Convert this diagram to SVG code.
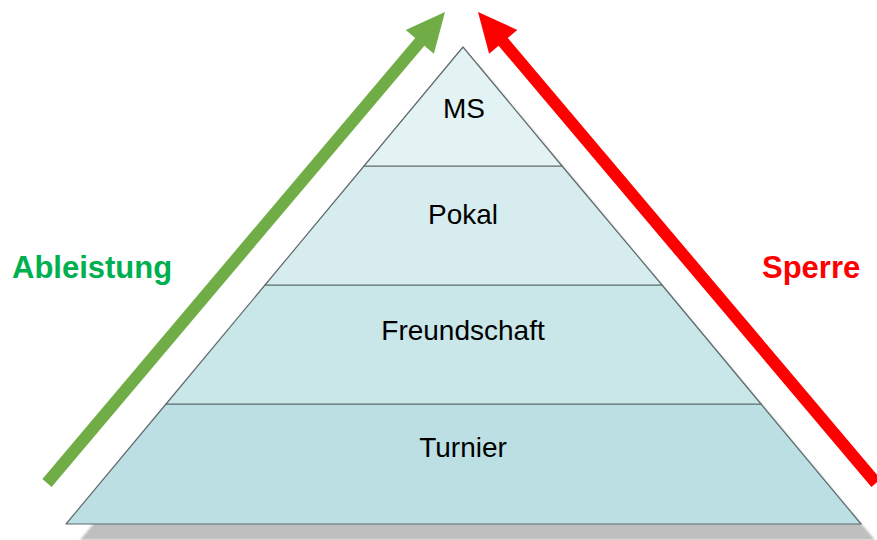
<svg xmlns="http://www.w3.org/2000/svg" width="877" height="540" viewBox="0 0 877 540">
<style>
.layer{stroke:#5f6a6d;stroke-width:1.2;stroke-linejoin:round}
.lbl{font-family:"Liberation Sans",Arial,sans-serif;font-size:28px;fill:#000;text-anchor:middle}
.side{font-family:"Liberation Sans",Arial,sans-serif;font-size:31px;font-weight:bold}
</style>
<defs>
<filter id="blur" x="-5%" y="-5%" width="110%" height="110%"><feGaussianBlur stdDeviation="1"/></filter>
</defs>
<rect width="877" height="540" fill="#ffffff"/>
<g id="shadow">
<polygon points="477,63 875,540 80,540 80,540" fill="#bfbfbf" filter="url(#blur)"/>
</g>
<g id="layer-turnier">
<polygon class="layer" points="166,404 761,404 861,524 66,524" fill="#bbdfe2"/>
<text class="lbl" x="463" y="457">Turnier</text>
</g>
<g id="layer-freundschaft">
<polygon class="layer" points="265,285 662,285 761,404 166,404" fill="#c9e6e9"/>
<text class="lbl" x="463" y="340">Freundschaft</text>
</g>
<g id="layer-pokal">
<polygon class="layer" points="364,166 562,166 662,285 265,285" fill="#d7ecef"/>
<text class="lbl" x="463" y="224">Pokal</text>
</g>
<g id="layer-ms">
<polygon class="layer" points="463,47 562,166 364,166" fill="#e3f2f3"/>
<text class="lbl" x="464" y="118">MS</text>
</g>
<g id="connectors">
<polygon id="arrow-ableistung" points="51.6,486.9 424.4,45.7 433.9,53.7 445,12 405.7,29.9 415.2,37.9 42.4,479.1" fill="#70ad47"/>
<polygon id="arrow-sperre" points="871.4,486.9 498.6,45.7 489.1,53.7 478,12 517.3,29.9 507.8,37.9 880.6,479.1" fill="#ff0000"/>
</g>
<g id="label-ableistung">
<text class="side" x="12" y="278" fill="#00b050">Ableistung</text>
</g>
<g id="label-sperre">
<text class="side" x="762" y="278" fill="#ff0000">Sperre</text>
</g>
</svg>
